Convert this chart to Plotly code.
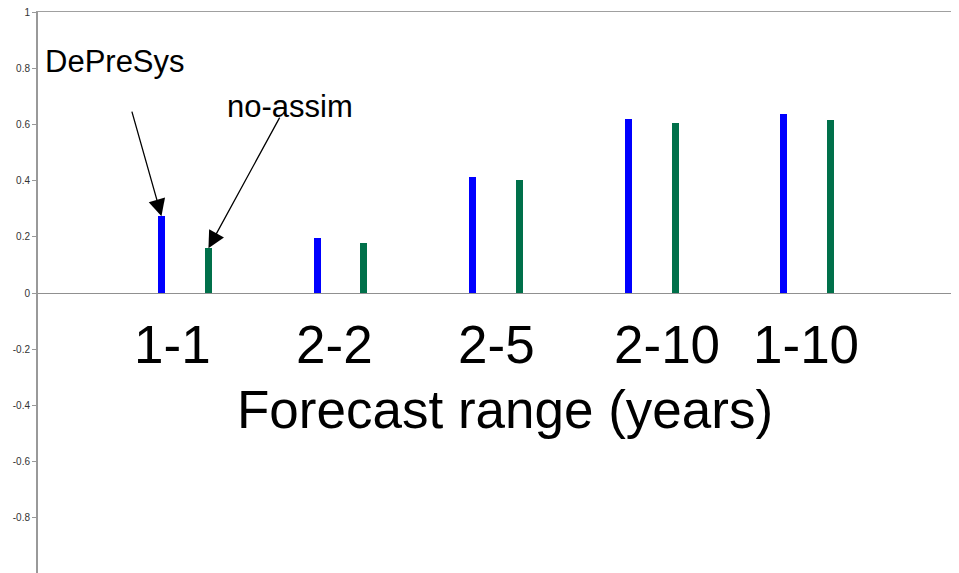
import plotly.graph_objects as go

categories = ["1-1", "2-2", "2-5", "2-10", "1-10"]
depresys = [0.274, 0.196, 0.413, 0.619, 0.637]
no_assim = [0.160, 0.180, 0.402, 0.605, 0.616]
ytick_vals = [-1, -0.8, -0.6, -0.4, -0.2, 0, 0.2, 0.4, 0.6, 0.8, 1]
ytick_text = ["-1", "-0.8", "-0.6", "-0.4", "-0.2", "0", "0.2", "0.4", "0.6", "0.8", "1"]

# small horizontal nudges of the category labels (pixels), as in the reference layout
label_shift = [-12, -6, 0, 15, -1]

BAR_W = 0.045
OFF = 0.151
FONT = "Liberation Sans, Arial, sans-serif"

fig = go.Figure()
fig.add_trace(go.Bar(x=categories, y=depresys, name="DePreSys",
                     marker=dict(color="#0000ff", line=dict(width=0)),
                     width=BAR_W, offset=-OFF - BAR_W / 2))
fig.add_trace(go.Bar(x=categories, y=no_assim, name="no-assim",
                     marker=dict(color="#00704a", line=dict(width=0)),
                     width=BAR_W, offset=OFF - BAR_W / 2))

annotations = []
for c, s in zip(categories, label_shift):
    annotations.append(dict(x=c, y=0, xref="x", yref="y", text=c, showarrow=False,
                            xanchor="center", yanchor="top", yshift=-20, xshift=s,
                            font=dict(family=FONT, size=53, color="#000")))
annotations.append(dict(x=0.5076, y=0.292, xref="paper", yref="paper",
                        xanchor="center", yanchor="middle",
                        text="Forecast range (years)", showarrow=False,
                        font=dict(family=FONT, size=53, color="#000")))
annotations.append(dict(x=0.0054, y=0.911, xref="paper", yref="paper",
                        xanchor="left", yanchor="middle",
                        text="DePreSys", showarrow=False,
                        font=dict(family=FONT, size=31, color="#000")))
annotations.append(dict(x=0.203, y=0.831, xref="paper", yref="paper",
                        xanchor="left", yanchor="middle",
                        text="no-assim", showarrow=False,
                        font=dict(family=FONT, size=31, color="#000")))
# arrows pointing to the first pair of bars
annotations.append(dict(x=-OFF, y=depresys[0], xref="x", yref="y", text="",
                        showarrow=True, arrowhead=2, arrowsize=2.6, arrowwidth=1.3,
                        arrowcolor="#000", ax=-30, ay=-106, standoff=0))
annotations.append(dict(x=OFF, y=no_assim[0], xref="x", yref="y", text="",
                        showarrow=True, arrowhead=2, arrowsize=2.6, arrowwidth=1.3,
                        arrowcolor="#000", ax=72, ay=-132, standoff=0))

fig.update_layout(
    width=951, height=565,
    margin=dict(l=30, r=0, t=4, b=0),
    paper_bgcolor="white", plot_bgcolor="white",
    showlegend=False,
    annotations=annotations,
    bargap=0,
    xaxis=dict(type="category", range=[-0.945, 4.977], side="top",
               showline=True, linecolor="#a0a0a0", linewidth=1,
               showticklabels=False, ticks="", showgrid=False, zeroline=False),
    yaxis=dict(range=[-0.9964, 1.0008], tickvals=ytick_vals, ticktext=ytick_text,
               ticklabeloverflow="allow",
               showline=True, linecolor="#999999", linewidth=2,
               ticks="outside", ticklen=4, tickcolor="#999999", tickwidth=1,
               tickfont=dict(family=FONT, size=10, color="#333"),
               showgrid=False, zeroline=True, zerolinecolor="#909090", zerolinewidth=1),
)

fig.write_html("out.html")
